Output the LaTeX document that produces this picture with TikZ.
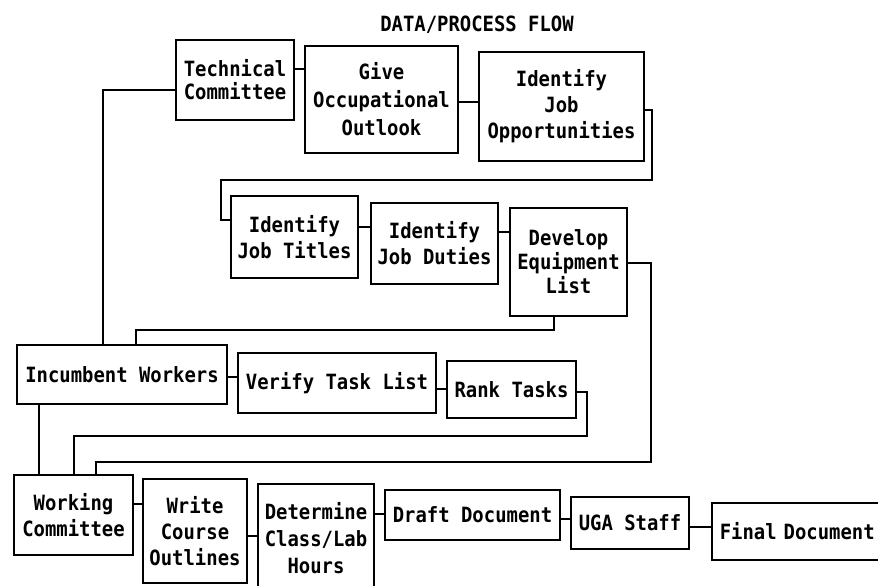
\documentclass[tikz,border=0pt]{standalone}
\usepackage{fontspec}
\newfontfamily\dmono[FakeStretch=0.9]{DejaVu Sans Mono}
\newcommand\bxfont{\dmono\bfseries\fontsize{21}{26}\selectfont}
\begin{document}
\begin{tikzpicture}[x=1pt,y=-1pt,
  box/.style={draw, line width=1.5pt, inner sep=0pt, align=center, font=\bxfont},
  link/.style={line width=1.5pt}]
\useasboundingbox (0,0) rectangle (878,586);
\fill[white] (0,0) rectangle (878,586);

\node[font=\bxfont] (title) at (477,25) {DATA/PROCESS FLOW};

% row 1
\node[box, minimum width=118pt, minimum height=80pt, font=\bxfont\fontsize{21}{23}\selectfont] (tech) at (235,80) {Technical\\Committee};
\node[box, minimum width=153pt, minimum height=107pt, font=\bxfont\fontsize{21}{28}\selectfont] (give) at (381.5,99.5) {Give\\Occupational\\Outlook};
\node[box, minimum width=165pt, minimum height=109pt] (opp) at (561.5,106.5) {Identify\\Job\\Opportunities};

% row 2
\node[box, minimum width=127pt, minimum height=82pt] (titles) at (294.5,237) {Identify\\Job Titles};
\node[box, minimum width=127pt, minimum height=81pt] (duties) at (434.5,243.5) {Identify\\Job Duties};
\node[box, minimum width=117pt, minimum height=108pt, font=\bxfont\fontsize{21}{24}\selectfont] (develop) at (568.5,262) {Develop\\Equipment\\List};

% row 3
\node[box, minimum width=210pt, minimum height=59pt] (incumbent) at (122,374.5) {Incumbent Workers};
\node[box, minimum width=198pt, minimum height=60pt] (verify) at (337,383) {Verify Task List};
\node[box, minimum width=129pt, minimum height=57pt] (rank) at (511.5,389.5) {Rank Tasks};

% row 4
\node[box, minimum width=119pt, minimum height=80pt] (working) at (73.5,515) {Working\\Committee};
\node[box, minimum width=104pt, minimum height=104pt] (write) at (195,531) {Write\\Course\\Outlines};
\node[box, minimum width=116pt, minimum height=108pt, font=\bxfont\fontsize{21}{27}\selectfont] (determine) at (316,538) {Determine\\Class/Lab\\Hours};
\node[box, minimum width=175pt, minimum height=50pt] (draft) at (472.5,515) {Draft Document};
\node[box, minimum width=118pt, minimum height=52pt] (uga) at (630,523) {UGA Staff};
\node[box, anchor=west, text width=175pt, align=left, inner xsep=8pt, minimum height=57pt] (final) at (711,531.5) {Final Document};

% connectors
\draw[link] (tech.east |- 0,69) -- (give.west |- 0,69);
\draw[link] (give.east |- 0,102) -- (opp.west |- 0,102);
\draw[link] (opp.east |- 0,110) -| (652,180) -| (221,220) -- (titles.west |- 0,220);
\draw[link] (titles.east |- 0,227) -- (duties.west |- 0,227);
\draw[link] (duties.east |- 0,232) -- (develop.west |- 0,232);
\draw[link] (develop.south -| 554,0) -- (554,330) -| (incumbent.north -| 136,0);
\draw[link] (develop.east |- 0,263) -| (651,462) -| (working.north -| 96,0);
\draw[link] (tech.west |- 0,90) -| (incumbent.north -| 103,0);
\draw[link] (incumbent.east |- 0,377) -- (verify.west |- 0,377);
\draw[link] (verify.east |- 0,389) -- (rank.west |- 0,389);
\draw[link] (rank.east |- 0,392) -| (587,436) -| (working.north -| 74,0);
\draw[link] (incumbent.south -| 39,0) -- (working.north -| 39,0);
\draw[link] (working.east |- 0,504) -- (write.west |- 0,504);
\draw[link] (write.east |- 0,536) -- (determine.west |- 0,536);
\draw[link] (determine.east |- 0,514) -- (draft.west |- 0,514);
\draw[link] (draft.east |- 0,519) -- (uga.west |- 0,519);
\draw[link] (uga.east |- 0,527) -- (final.west |- 0,527);
\end{tikzpicture}
\end{document}
